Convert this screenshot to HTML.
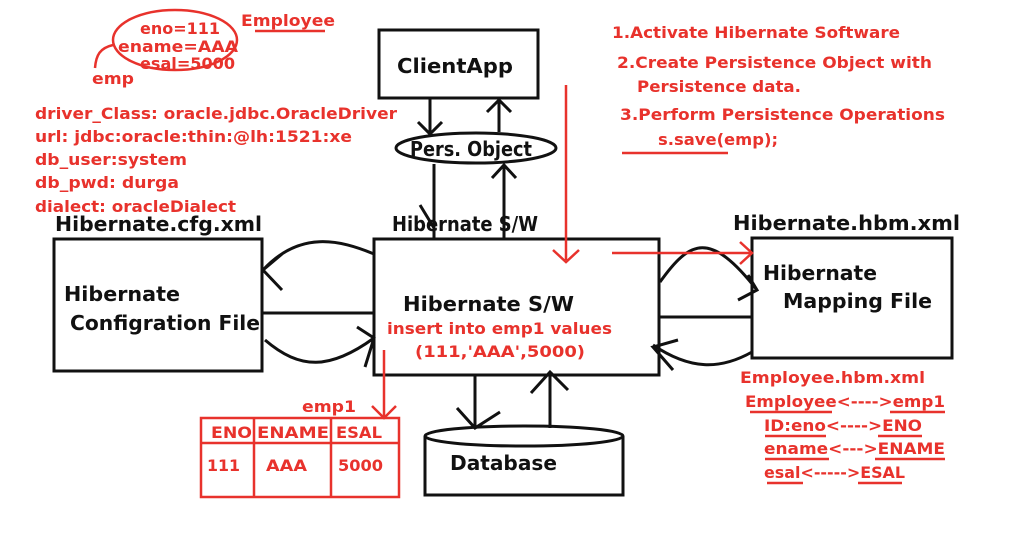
<!DOCTYPE html>
<html><head><meta charset="utf-8"><style>
html,body{margin:0;padding:0;background:#fff;}
svg{display:block;}
text{font-family:"DejaVu Sans","Liberation Sans",sans-serif;font-weight:bold;}
.r{fill:#e8322c;font-size:16px;}
.b{fill:#111;font-size:20px;}
</style></head><body>
<svg width="1026" height="559" viewBox="0 0 1026 559" xmlns="http://www.w3.org/2000/svg">
<g fill="none" stroke="#111" stroke-width="3">
<rect x="379" y="30" width="159" height="68"/>
<ellipse cx="476" cy="148" rx="80" ry="15"/>
<rect x="54" y="239" width="208" height="132"/>
<rect x="374" y="239" width="285" height="136"/>
<rect x="752" y="238" width="200" height="120"/>
<path d="M430 98 V132 M418 122 L430 134 L442 122"/>
<path d="M499 132 V100 M487 112 L499 100 L511 112"/>
<path d="M434 164 V240 M420 205 L434 228"/>
<path d="M504 240 V165 M492 178 L504 165 L516 178"/>
<path d="M374 254 C340 240 300 230 263 270 M282 254 L263 270 L282 290"/>
<path d="M262 313 H374"/>
<path d="M265 340 C300 370 330 370 374 338 M357 327 L374 338 L365 367"/>
<path d="M660 282 C690 240 710 230 757 290 M738 300 L757 290 L748 275"/>
<path d="M659 317 H752"/>
<path d="M752 352 C720 370 690 370 653 345 M678 340 L653 347 L673 370"/>
<path d="M475 375 V428 M457 408 L475 428 L500 412"/>
<path d="M550 428 V372 M531 393 L550 372 L568 390"/>
<path d="M425 436 V495 H623 V436"/>
<ellipse cx="524" cy="436" rx="99" ry="10"/>
</g>
<g fill="none" stroke="#e8322c" stroke-width="2.5">
<ellipse cx="175" cy="40" rx="62" ry="30"/>
<path d="M95 68 C96 55 100 48 113 45"/>
<path d="M255 31 H325"/>
<path d="M622 153 H728"/>
<path d="M566 85 V260 M553 250 L566 262 L579 250"/>
<path d="M612 253 H752 M740 242 L752 253 L740 264"/>
<path d="M384 350 V418 M372 406 L384 418 L396 406"/>
<rect x="201" y="418" width="198" height="79"/>
<path d="M201 443 H399 M254 418 V497 M331 418 V497"/>
<path d="M750 412 H832 M890 412 H945 M765 436 H826 M878 436 H922 M765 459 H829 M875 459 H945 M767 483 H803 M858 483 H902"/>
</g>
<g lengthAdjust="spacingAndGlyphs">
<text class="r" x="241" y="26" textLength="94" lengthAdjust="spacingAndGlyphs">Employee</text>
<text class="r" x="140" y="34" textLength="80" lengthAdjust="spacingAndGlyphs">eno=111</text>
<text class="r" x="118" y="52" textLength="120" lengthAdjust="spacingAndGlyphs">ename=AAA</text>
<text class="r" x="140" y="69" textLength="95" lengthAdjust="spacingAndGlyphs">esal=5000</text>
<text class="r" x="92" y="84" textLength="42" lengthAdjust="spacingAndGlyphs">emp</text>
<text class="r" x="35" y="119" textLength="362" lengthAdjust="spacingAndGlyphs">driver_Class: oracle.jdbc.OracleDriver</text>
<text class="r" x="35" y="142" textLength="317" lengthAdjust="spacingAndGlyphs">url: jdbc:oracle:thin:@lh:1521:xe</text>
<text class="r" x="35" y="165" textLength="152" lengthAdjust="spacingAndGlyphs">db_user:system</text>
<text class="r" x="35" y="188" textLength="144" lengthAdjust="spacingAndGlyphs">db_pwd: durga</text>
<text class="r" x="35" y="212" textLength="201" lengthAdjust="spacingAndGlyphs">dialect: oracleDialect</text>
<text class="b" x="55" y="231" textLength="207" lengthAdjust="spacingAndGlyphs">Hibernate.cfg.xml</text>
<text class="b" x="397" y="73" textLength="116" lengthAdjust="spacingAndGlyphs">ClientApp</text>
<text class="r" x="612" y="38" textLength="288" lengthAdjust="spacingAndGlyphs">1.Activate Hibernate Software</text>
<text class="r" x="617" y="68" textLength="315" lengthAdjust="spacingAndGlyphs">2.Create Persistence Object  with</text>
<text class="r" x="637" y="92" textLength="164" lengthAdjust="spacingAndGlyphs">Persistence data.</text>
<text class="r" x="620" y="120" textLength="325" lengthAdjust="spacingAndGlyphs">3.Perform Persistence Operations</text>
<text class="r" x="658" y="145" textLength="120" lengthAdjust="spacingAndGlyphs">s.save(emp);</text>
<text class="b" x="410" y="156" textLength="122" lengthAdjust="spacingAndGlyphs">Pers. Object</text>
<text class="b" x="392" y="231" textLength="146" lengthAdjust="spacingAndGlyphs">Hibernate S/W</text>
<text class="b" x="733" y="230" textLength="227" lengthAdjust="spacingAndGlyphs">Hibernate.hbm.xml</text>
<text class="b" x="64" y="301" textLength="116" lengthAdjust="spacingAndGlyphs">Hibernate</text>
<text class="b" x="70" y="330" textLength="190" lengthAdjust="spacingAndGlyphs">Configration File</text>
<text class="b" x="403" y="311" textLength="171" lengthAdjust="spacingAndGlyphs">Hibernate S/W</text>
<text class="r" x="387" y="334" textLength="225" lengthAdjust="spacingAndGlyphs">insert into emp1 values</text>
<text class="r" x="415" y="357" textLength="170" lengthAdjust="spacingAndGlyphs">(111,'AAA',5000)</text>
<text class="b" x="763" y="280" textLength="114" lengthAdjust="spacingAndGlyphs">Hibernate</text>
<text class="b" x="783" y="308" textLength="149" lengthAdjust="spacingAndGlyphs">Mapping File</text>
<text class="r" x="740" y="383" textLength="185" lengthAdjust="spacingAndGlyphs">Employee.hbm.xml</text>
<text class="r" x="745" y="407" textLength="200" lengthAdjust="spacingAndGlyphs">Employee&lt;----&gt;emp1</text>
<text class="r" x="764" y="431" textLength="158" lengthAdjust="spacingAndGlyphs">ID:eno&lt;----&gt;ENO</text>
<text class="r" x="764" y="454" textLength="181" lengthAdjust="spacingAndGlyphs">ename&lt;---&gt;ENAME</text>
<text class="r" x="764" y="478" textLength="141" lengthAdjust="spacingAndGlyphs">esal&lt;-----&gt;ESAL</text>
<text class="r" x="302" y="412" textLength="54" lengthAdjust="spacingAndGlyphs">emp1</text>
<text class="r" x="211" y="438" textLength="41" lengthAdjust="spacingAndGlyphs">ENO</text>
<text class="r" x="257" y="438" textLength="72" lengthAdjust="spacingAndGlyphs">ENAME</text>
<text class="r" x="336" y="438" textLength="46" lengthAdjust="spacingAndGlyphs">ESAL</text>
<text class="r" x="207" y="471" textLength="33" lengthAdjust="spacingAndGlyphs">111</text>
<text class="r" x="266" y="471" textLength="41" lengthAdjust="spacingAndGlyphs">AAA</text>
<text class="r" x="338" y="471" textLength="45" lengthAdjust="spacingAndGlyphs">5000</text>
<text class="b" x="450" y="470" textLength="107" lengthAdjust="spacingAndGlyphs">Database</text>
</g>
</svg>
</body></html>
